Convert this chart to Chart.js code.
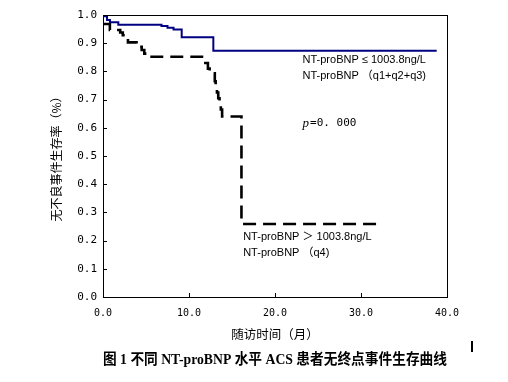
<!DOCTYPE html>
<html><head><meta charset="utf-8">
<script src="https://cdn.jsdelivr.net/npm/chart.js@4/dist/chart.umd.min.js"></script>
<style>html,body{margin:0;padding:0;background:#fff}#wrap{width:508px;height:382px;position:relative}</style>
</head><body><div id="wrap"><canvas id="c"></canvas></div>
<script>
// Kaplan-Meier step points (time in months, survival proportion)
const lowTime = [0, 0.47, 0.81, 1.78, 6.8, 7.5, 8.2, 9.15, 12.83, 38.8];
const lowSurv = [0.996, 0.982, 0.974, 0.965, 0.961, 0.955, 0.949, 0.921, 0.873, 0.873];
const highTime = [0, 0.8, 2.0, 2.3, 2.6, 2.9, 3.9, 4.2, 4.5, 4.8, 5.1, 11.7, 11.9, 12.2, 12.4, 13.0, 13.1, 13.25, 13.4, 13.55, 13.7, 13.85, 16.1, 31.9];
const highSurv = [0.968, 0.947, 0.938, 0.928, 0.918, 0.903, 0.897, 0.887, 0.876, 0.863, 0.852, 0.845, 0.83, 0.81, 0.793, 0.765, 0.74, 0.725, 0.705, 0.685, 0.665, 0.64, 0.259, 0.259];
const xTickValues = [0, 10, 20, 30, 40];
const yTickValues = [0, 0.1, 0.2, 0.3, 0.4, 0.5, 0.6, 0.7, 0.8, 0.9, 1.0];
const xTitle = '随访时间（月）';
const yTitle = '无不良事件生存率（%）';
const caption = '图 1 不同 NT-proBNP 水平 ACS 患者无终点事件生存曲线';
const notes = [
  {x: 23.2, y: 0.84, text: 'NT-proBNP ≤ 1003.8ng/L'},
  {x: 23.2, y: 0.783, text: 'NT-proBNP （q1+q2+q3)'},
  {x: 16.3, y: 0.214, text: 'NT-proBNP ＞ 1003.8ng/L'},
  {x: 16.3, y: 0.157, text: 'NT-proBNP （q4)'}
];
const pNote = {x: 23.2, y: 0.615, p: 'p', rest: '=0. 000'};

const pts = (t, s) => t.map((v, i) => ({x: v, y: s[i]}));

const deco = {
  id: 'deco',
  afterDraw(chart) {
    const {ctx, chartArea: a, scales: {x, y}} = chart;
    ctx.save();
    ctx.strokeStyle = '#000';
    ctx.lineWidth = 1;
    ctx.beginPath();
    ctx.moveTo(a.left, a.top + 0.5); ctx.lineTo(a.right + 1, a.top + 0.5);
    ctx.moveTo(a.right + 0.5, a.top); ctx.lineTo(a.right + 0.5, a.bottom + 1);
    xTickValues.slice(1, -1).forEach(v => {
      const px = Math.round(x.getPixelForValue(v)) + 0.5;
      ctx.moveTo(px, a.bottom); ctx.lineTo(px, a.bottom - 4);
    });
    yTickValues.slice(1, -1).forEach(v => {
      const py = Math.round(y.getPixelForValue(v)) + 0.5;
      ctx.moveTo(a.left, py); ctx.lineTo(a.left + 4, py);
    });
    ctx.stroke();
    ctx.fillStyle = '#000';
    ctx.textBaseline = 'middle';
    ctx.textAlign = 'left';
    ctx.font = '11px "Liberation Sans", "Noto Sans CJK SC", sans-serif';
    notes.forEach(n => ctx.fillText(n.text, x.getPixelForValue(n.x), y.getPixelForValue(n.y)));
    const px = x.getPixelForValue(pNote.x), py = y.getPixelForValue(pNote.y);
    ctx.font = 'italic 13px "Liberation Serif", serif';
    ctx.fillText(pNote.p, px, py);
    const w = ctx.measureText(pNote.p).width;
    ctx.font = '11px "DejaVu Sans Mono", monospace';
    ctx.fillText(pNote.rest, px + w + 1, py);
    // small vertical mark at right of caption area
    ctx.fillRect(471, 341, 2, 11);
    ctx.restore();
  }
};

new Chart(document.getElementById('c'), {
  type: 'line',
  data: {
    datasets: [
      {data: pts(lowTime, lowSurv), borderColor: '#000080', borderWidth: 2, stepped: true, pointRadius: 0, fill: false},
      {data: pts(highTime, highSurv), borderColor: '#000', borderWidth: 2.6, borderDash: [13, 7], stepped: true, pointRadius: 0, fill: false}
    ]
  },
  options: {
    responsive: true, maintainAspectRatio: false, animation: false,
    layout: {padding: {top: 15, right: 61, left: 0, bottom: 0}},
    plugins: {
      legend: {display: false}, tooltip: {enabled: false},
      title: {display: true, text: caption, position: 'bottom', fullSize: false, color: '#000',
        font: {family: '"Liberation Serif", "Noto Sans CJK SC", serif', size: 14.5, weight: 'bold'},
        padding: {top: 4, bottom: 12.6}}
    },
    scales: {
      x: {type: 'linear', min: 0, max: 40,
        afterFit: s => { s.height = 51; },
        grid: {display: false, drawTicks: false},
        border: {display: true, color: '#000', width: 1},
        ticks: {stepSize: 10, padding: 10, color: '#000', font: {family: '"DejaVu Sans Mono", monospace', size: 10},
          callback: v => Number(v).toFixed(1)},
        title: {display: true, text: xTitle, color: '#000', font: {family: '"Noto Sans CJK SC", sans-serif', size: 12.5}, padding: {top: 0, bottom: 6.5}}
      },
      y: {min: 0, max: 1,
        afterFit: s => { s.width = 103; },
        grid: {display: false, drawTicks: false},
        border: {display: true, color: '#000', width: 1},
        ticks: {stepSize: 0.1, padding: 6, color: '#000', font: {family: '"DejaVu Sans Mono", monospace', size: 11},
          callback: v => Number(v).toFixed(1)},
        title: {display: true, text: yTitle, color: '#000', font: {family: '"Noto Sans CJK SC", sans-serif', size: 12}, padding: {top: 49.5, bottom: 0}}
      }
    }
  },
  plugins: [deco]
});
</script></body></html>
